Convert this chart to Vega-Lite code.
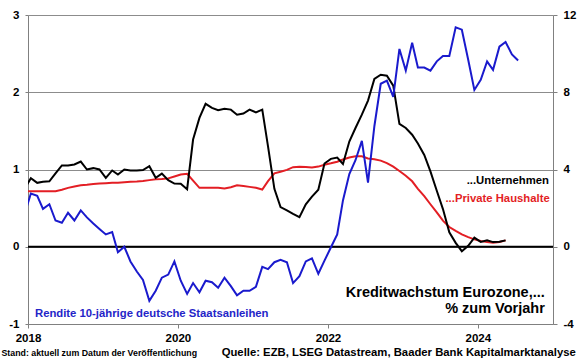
{
  "$schema": "https://vega.github.io/schema/vega-lite/v6.json",
  "width": 525,
  "height": 309,
  "autosize": {"type": "none"},
  "padding": {"left": 28, "top": 15, "right": 27, "bottom": 35},
  "background": "white",
  "config": {"view": {"stroke": null}, "font": "Liberation Sans"},
  "title": {
    "text": "Quelle: EZB, LSEG Datastream, Baader Bank Kapitalmarktanalyse",
    "orient": "bottom",
    "anchor": "end",
    "font": "Liberation Sans",
    "fontSize": 11.3,
    "fontWeight": "bold",
    "color": "black",
    "offset": 0,
    "dx": 0,
    "dy": -10
  },
  "datasets": {
    "monatsdaten": [
      {"monat": "2017-12-15", "rendite": 0.42, "Unternehmen": 3.0, "Private Haushalte": 2.88},
      {"monat": "2018-01-15", "rendite": 0.69, "Unternehmen": 3.55, "Private Haushalte": 2.88},
      {"monat": "2018-02-15", "rendite": 0.66, "Unternehmen": 3.31, "Private Haushalte": 2.88},
      {"monat": "2018-03-15", "rendite": 0.49, "Unternehmen": 3.36, "Private Haushalte": 2.88},
      {"monat": "2018-04-15", "rendite": 0.55, "Unternehmen": 3.39, "Private Haushalte": 2.88},
      {"monat": "2018-05-15", "rendite": 0.34, "Unternehmen": 3.8, "Private Haushalte": 2.88},
      {"monat": "2018-06-15", "rendite": 0.31, "Unternehmen": 4.21, "Private Haushalte": 2.95},
      {"monat": "2018-07-15", "rendite": 0.44, "Unternehmen": 4.21, "Private Haushalte": 3.05},
      {"monat": "2018-08-15", "rendite": 0.34, "Unternehmen": 4.26, "Private Haushalte": 3.12},
      {"monat": "2018-09-15", "rendite": 0.47, "Unternehmen": 4.41, "Private Haushalte": 3.18},
      {"monat": "2018-10-15", "rendite": 0.38, "Unternehmen": 4.0, "Private Haushalte": 3.21},
      {"monat": "2018-11-15", "rendite": 0.30, "Unternehmen": 4.07, "Private Haushalte": 3.25},
      {"monat": "2018-12-15", "rendite": 0.23, "Unternehmen": 4.0, "Private Haushalte": 3.27},
      {"monat": "2019-01-15", "rendite": 0.16, "Unternehmen": 3.57, "Private Haushalte": 3.29},
      {"monat": "2019-02-15", "rendite": 0.19, "Unternehmen": 3.95, "Private Haushalte": 3.31},
      {"monat": "2019-03-15", "rendite": -0.07, "Unternehmen": 3.74, "Private Haushalte": 3.32},
      {"monat": "2019-04-15", "rendite": 0.00, "Unternehmen": 4.0, "Private Haushalte": 3.34},
      {"monat": "2019-05-15", "rendite": -0.19, "Unternehmen": 3.95, "Private Haushalte": 3.36},
      {"monat": "2019-06-15", "rendite": -0.32, "Unternehmen": 3.95, "Private Haushalte": 3.38},
      {"monat": "2019-07-15", "rendite": -0.43, "Unternehmen": 3.97, "Private Haushalte": 3.41},
      {"monat": "2019-08-15", "rendite": -0.70, "Unternehmen": 4.17, "Private Haushalte": 3.45},
      {"monat": "2019-09-15", "rendite": -0.57, "Unternehmen": 3.57, "Private Haushalte": 3.49},
      {"monat": "2019-10-15", "rendite": -0.40, "Unternehmen": 3.79, "Private Haushalte": 3.51},
      {"monat": "2019-11-15", "rendite": -0.36, "Unternehmen": 3.45, "Private Haushalte": 3.54},
      {"monat": "2019-12-15", "rendite": -0.19, "Unternehmen": 3.27, "Private Haushalte": 3.64},
      {"monat": "2020-01-15", "rendite": -0.44, "Unternehmen": 3.26, "Private Haushalte": 3.74},
      {"monat": "2020-02-15", "rendite": -0.61, "Unternehmen": 2.98, "Private Haushalte": 3.78},
      {"monat": "2020-03-15", "rendite": -0.47, "Unternehmen": 5.55, "Private Haushalte": 3.42},
      {"monat": "2020-04-15", "rendite": -0.59, "Unternehmen": 6.67, "Private Haushalte": 3.05},
      {"monat": "2020-05-15", "rendite": -0.44, "Unternehmen": 7.40, "Private Haushalte": 3.05},
      {"monat": "2020-06-15", "rendite": -0.46, "Unternehmen": 7.19, "Private Haushalte": 3.05},
      {"monat": "2020-07-15", "rendite": -0.53, "Unternehmen": 7.07, "Private Haushalte": 3.05},
      {"monat": "2020-08-15", "rendite": -0.40, "Unternehmen": 7.15, "Private Haushalte": 3.02},
      {"monat": "2020-09-15", "rendite": -0.51, "Unternehmen": 7.10, "Private Haushalte": 3.08},
      {"monat": "2020-10-15", "rendite": -0.63, "Unternehmen": 6.84, "Private Haushalte": 3.18},
      {"monat": "2020-11-15", "rendite": -0.57, "Unternehmen": 6.90, "Private Haushalte": 3.15},
      {"monat": "2020-12-15", "rendite": -0.57, "Unternehmen": 7.10, "Private Haushalte": 3.10},
      {"monat": "2021-01-15", "rendite": -0.52, "Unternehmen": 6.96, "Private Haushalte": 3.05},
      {"monat": "2021-02-15", "rendite": -0.26, "Unternehmen": 7.10, "Private Haushalte": 2.96},
      {"monat": "2021-03-15", "rendite": -0.29, "Unternehmen": 5.2, "Private Haushalte": 3.4},
      {"monat": "2021-04-15", "rendite": -0.20, "Unternehmen": 3.0, "Private Haushalte": 3.80},
      {"monat": "2021-05-15", "rendite": -0.17, "Unternehmen": 2.05, "Private Haushalte": 3.88},
      {"monat": "2021-06-15", "rendite": -0.20, "Unternehmen": 1.88, "Private Haushalte": 3.98},
      {"monat": "2021-07-15", "rendite": -0.47, "Unternehmen": 1.7, "Private Haushalte": 4.12},
      {"monat": "2021-08-15", "rendite": -0.38, "Unternehmen": 1.53, "Private Haushalte": 4.14},
      {"monat": "2021-09-15", "rendite": -0.19, "Unternehmen": 2.2, "Private Haushalte": 4.13},
      {"monat": "2021-10-15", "rendite": -0.15, "Unternehmen": 2.6, "Private Haushalte": 4.10},
      {"monat": "2021-11-15", "rendite": -0.35, "Unternehmen": 2.95, "Private Haushalte": 4.15},
      {"monat": "2021-12-15", "rendite": -0.18, "Unternehmen": 4.31, "Private Haushalte": 4.25},
      {"monat": "2022-01-15", "rendite": -0.01, "Unternehmen": 4.55, "Private Haushalte": 4.32},
      {"monat": "2022-02-15", "rendite": 0.16, "Unternehmen": 4.62, "Private Haushalte": 4.40},
      {"monat": "2022-03-15", "rendite": 0.60, "Unternehmen": 4.29, "Private Haushalte": 4.52},
      {"monat": "2022-04-15", "rendite": 0.94, "Unternehmen": 5.45, "Private Haushalte": 4.62},
      {"monat": "2022-05-15", "rendite": 1.12, "Unternehmen": 6.15, "Private Haushalte": 4.68},
      {"monat": "2022-06-15", "rendite": 1.37, "Unternehmen": 6.84, "Private Haushalte": 4.68},
      {"monat": "2022-07-15", "rendite": 0.83, "Unternehmen": 7.57, "Private Haushalte": 4.57},
      {"monat": "2022-08-15", "rendite": 1.56, "Unternehmen": 8.69, "Private Haushalte": 4.53},
      {"monat": "2022-09-15", "rendite": 2.11, "Unternehmen": 8.91, "Private Haushalte": 4.46},
      {"monat": "2022-10-15", "rendite": 2.15, "Unternehmen": 8.86, "Private Haushalte": 4.33},
      {"monat": "2022-11-15", "rendite": 1.94, "Unternehmen": 8.34, "Private Haushalte": 4.15},
      {"monat": "2022-12-15", "rendite": 2.56, "Unternehmen": 6.36, "Private Haushalte": 3.92},
      {"monat": "2023-01-15", "rendite": 2.28, "Unternehmen": 6.15, "Private Haushalte": 3.68},
      {"monat": "2023-02-15", "rendite": 2.64, "Unternehmen": 5.8, "Private Haushalte": 3.39},
      {"monat": "2023-03-15", "rendite": 2.32, "Unternehmen": 5.35, "Private Haushalte": 3.0},
      {"monat": "2023-04-15", "rendite": 2.32, "Unternehmen": 4.75, "Private Haushalte": 2.62},
      {"monat": "2023-05-15", "rendite": 2.28, "Unternehmen": 3.9, "Private Haushalte": 2.20},
      {"monat": "2023-06-15", "rendite": 2.40, "Unternehmen": 2.9, "Private Haushalte": 1.78},
      {"monat": "2023-07-15", "rendite": 2.47, "Unternehmen": 1.95, "Private Haushalte": 1.35},
      {"monat": "2023-08-15", "rendite": 2.47, "Unternehmen": 0.75, "Private Haushalte": 1.02},
      {"monat": "2023-09-15", "rendite": 2.84, "Unternehmen": 0.2, "Private Haushalte": 0.82},
      {"monat": "2023-10-15", "rendite": 2.81, "Unternehmen": -0.23, "Private Haushalte": 0.64},
      {"monat": "2023-11-15", "rendite": 2.42, "Unternehmen": 0.05, "Private Haushalte": 0.50},
      {"monat": "2023-12-15", "rendite": 2.03, "Unternehmen": 0.47, "Private Haushalte": 0.38},
      {"monat": "2024-01-15", "rendite": 2.16, "Unternehmen": 0.25, "Private Haushalte": 0.30},
      {"monat": "2024-02-15", "rendite": 2.40, "Unternehmen": 0.33, "Private Haushalte": 0.24},
      {"monat": "2024-03-15", "rendite": 2.29, "Unternehmen": 0.24, "Private Haushalte": 0.21},
      {"monat": "2024-04-15", "rendite": 2.59, "Unternehmen": 0.26, "Private Haushalte": 0.25},
      {"monat": "2024-05-15", "rendite": 2.65, "Unternehmen": 0.33, "Private Haushalte": 0.33},
      {"monat": "2024-06-15", "rendite": 2.49},
      {"monat": "2024-07-15", "rendite": 2.41}
    ],
    "eins": [{"n": 1}]
  },
  "layer": [
    {
      "layer": [
        {
          "data": {"name": "monatsdaten"},
          "transform": [
            {"fold": ["Private Haushalte", "Unternehmen"], "as": ["reihe", "wachstum"]},
            {"filter": "isValid(datum.wachstum)"}
          ],
          "mark": {"type": "line", "strokeWidth": 2, "clip": true},
          "encoding": {
            "x": {
              "field": "monat",
              "type": "temporal",
              "scale": {"domain": [{"year": 2018, "month": 1, "date": 1}, {"year": 2025, "month": 1, "date": 1}]},
              "axis": {
                "values": [{"year": 2018, "month": 1, "date": 1}, {"year": 2020, "month": 1, "date": 1}, {"year": 2022, "month": 1, "date": 1}, {"year": 2024, "month": 1, "date": 1}],
                "format": "%Y",
                "grid": false,
                "domainColor": "#808080",
                "tickColor": "#808080",
                "tickSize": 4,
                "labelFlush": false,
                "labelFont": "Liberation Sans",
                "labelFontWeight": "bold",
                "labelFontSize": 11.5,
                "labelColor": "black",
                "labelPadding": 4,
                "labelDx": 3,
                "title": "Stand: aktuell zum Datum der Veröffentlichung",
                "titleFont": "Liberation Sans",
                "titleFontSize": 8.8,
                "titleFontWeight": "bold",
                "titleColor": "black",
                "titleAnchor": "start",
                "titleAlign": "left",
                "titleBaseline": "middle",
                "titleX": -27,
                "titleY": 28
              }
            },
            "y": {
              "field": "wachstum",
              "type": "quantitative",
              "scale": {"domain": [-4, 12], "nice": false, "zero": false},
              "axis": {
                "orient": "right",
                "values": [-4, 0, 4, 8, 12],
                "labelExpr": "'' + datum.value",
                "grid": false,
                "domainColor": "#808080",
                "tickColor": "#808080",
                "tickSize": 4,
                "labelPadding": 6,
                "labelFont": "Liberation Sans",
                "labelFontWeight": "bold",
                "labelFontSize": 11.5,
                "labelColor": "black",
                "title": null
              }
            },
            "color": {
              "field": "reihe",
              "type": "nominal",
              "scale": {"domain": ["Private Haushalte", "Unternehmen"], "range": ["#e31e24", "#000000"]},
              "legend": null
            }
          }
        },
        {
          "data": {"name": "eins"},
          "mark": {"type": "text", "text": "...Unternehmen", "align": "right", "baseline": "middle", "font": "Liberation Sans", "fontWeight": "bold", "fontSize": 11.3, "fill": "black"},
          "encoding": {
            "x": {"datum": {"year": 2024, "month": 12, "date": 12}, "type": "temporal"},
            "y": {"datum": 3.43, "type": "quantitative"}
          }
        },
        {
          "data": {"name": "eins"},
          "mark": {"type": "text", "text": "...Private Haushalte", "align": "right", "baseline": "middle", "font": "Liberation Sans", "fontWeight": "bold", "fontSize": 11.3, "fill": "#e31e24"},
          "encoding": {
            "x": {"datum": {"year": 2024, "month": 12, "date": 16}, "type": "temporal"},
            "y": {"datum": 2.45, "type": "quantitative"}
          }
        },
        {
          "data": {"name": "eins"},
          "mark": {"type": "text", "text": "Kreditwachstum Eurozone,...", "align": "right", "baseline": "middle", "font": "Liberation Sans", "fontWeight": "bold", "fontSize": 14.5, "fill": "black"},
          "encoding": {
            "x": {"datum": {"year": 2024, "month": 11, "date": 22}, "type": "temporal"},
            "y": {"datum": -2.38, "type": "quantitative"}
          }
        },
        {
          "data": {"name": "eins"},
          "mark": {"type": "text", "text": "% zum Vorjahr", "align": "right", "baseline": "middle", "font": "Liberation Sans", "fontWeight": "bold", "fontSize": 14.5, "fill": "black"},
          "encoding": {
            "x": {"datum": {"year": 2024, "month": 11, "date": 22}, "type": "temporal"},
            "y": {"datum": -3.21, "type": "quantitative"}
          }
        }
      ]
    },
    {
      "layer": [
        {
          "data": {"name": "eins"},
          "mark": {"type": "rule", "color": "black", "strokeWidth": 2},
          "encoding": {
            "x": {"datum": {"year": 2018, "month": 1, "date": 1}},
            "x2": {"datum": {"year": 2025, "month": 1, "date": 1}},
            "y": {"datum": 0}
          }
        },
        {
          "data": {"name": "monatsdaten"},
          "mark": {"type": "line", "strokeWidth": 2, "color": "#1a1acd", "clip": true},
          "encoding": {
            "x": {"field": "monat", "type": "temporal"},
            "y": {
              "field": "rendite",
              "type": "quantitative",
              "scale": {"domain": [-1, 3], "nice": false, "zero": false},
              "axis": {
                "orient": "left",
                "values": [-1, 0, 1, 2, 3],
                "labelExpr": "'' + datum.value",
                "grid": true,
                "gridColor": "#8c8c8c",
                "gridWidth": 1,
                "domainColor": "#808080",
                "tickColor": "#808080",
                "tickSize": 3,
                "labelPadding": 6,
                "labelFont": "Liberation Sans",
                "labelFontWeight": "bold",
                "labelFontSize": 11.5,
                "labelColor": "black",
                "title": null
              }
            }
          }
        },
        {
          "data": {"name": "eins"},
          "mark": {"type": "text", "text": "Rendite 10-jährige deutsche Staatsanleihen", "align": "left", "baseline": "middle", "font": "Liberation Sans", "fontWeight": "bold", "fontSize": 11.3, "fill": "#2424c8"},
          "encoding": {
            "x": {"datum": {"year": 2018, "month": 2, "date": 4}, "type": "temporal"},
            "y": {"datum": -0.867, "type": "quantitative"}
          }
        }
      ]
    }
  ],
  "resolve": {"scale": {"y": "independent"}}
}
